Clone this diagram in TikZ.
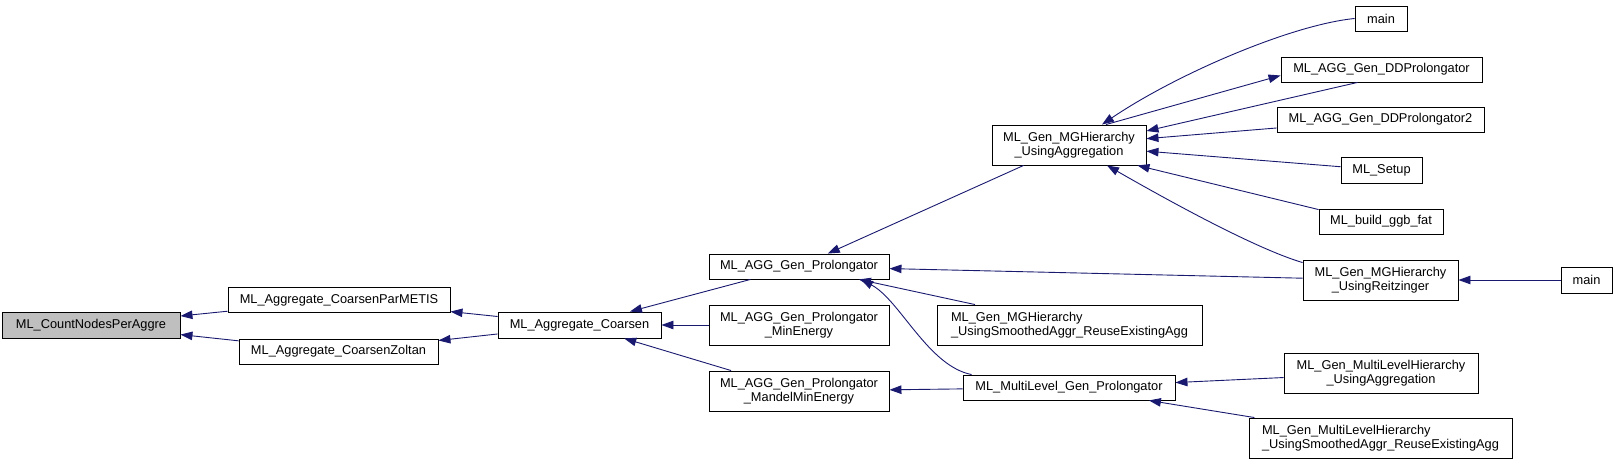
\documentclass[tikz,border=0pt]{standalone}
\usepackage{fontspec}
\setmainfont{Liberation Sans}
\usetikzlibrary{arrows.meta,calc}
\definecolor{edgeblue}{HTML}{191970}
\definecolor{rootgray}{HTML}{BFBFBF}

\begin{document}
\begin{tikzpicture}[
  x=1pt,y=-1pt,
  font=\fontsize{12.8}{14.5}\selectfont,
  fn/.style={draw=black,line width=0.9pt,fill=white,inner sep=0pt,align=center,
    minimum width=#1,minimum height=25pt},
  fn2/.style={fn=#1,minimum height=40pt},
  call/.style={draw=edgeblue,line width=0.9pt,{Triangle[length=12pt,width=8.5pt]}-}
]
\useasboundingbox (0,0) rectangle (1617,465);

% ---------- left: the function and its direct callers
\node[fn=178pt,fill=rootgray,minimum height=26pt] (count) at (91,325) {ML\_CountNodesPerAggre};
\node[fn=222pt] (parmetis) at (339,300) {ML\_Aggregate\_CoarsenParMETIS};
\node[fn=199pt] (zoltan) at (338.5,351.5) {ML\_Aggregate\_CoarsenZoltan};
\node[fn=163pt,minimum height=26pt] (coarsen) at (579.5,325) {ML\_Aggregate\_Coarsen};

% ---------- middle: prolongators
\node[fn=180pt] (prolong) at (799,266.5) {ML\_AGG\_Gen\_Prolongator};
\node[fn2=180pt] (minen) at (799,325) {ML\_AGG\_Gen\_Prolongator\\\_MinEnergy};
\node[fn2=180pt] (mandel) at (799,391) {ML\_AGG\_Gen\_Prolongator\\\_MandelMinEnergy};
\node[fn2=154pt] (mgh) at (1069,145) {ML\_Gen\_MGHierarchy\\\_UsingAggregation};
\node[fn2=265pt,align=left] (mghsmooth) at (1069.5,325) {ML\_Gen\_MGHierarchy\\\_UsingSmoothedAggr\_ReuseExistingAgg};
\node[fn=212pt] (mlprolong) at (1069,387.5) {ML\_MultiLevel\_Gen\_Prolongator};

% ---------- right: top level callers
\node[fn=52pt] (mainA) at (1381,18.5) {main};
\node[fn=201pt] (dd) at (1381.5,69.5) {ML\_AGG\_Gen\_DDProlongator};
\node[fn=207pt] (ddtwo) at (1380.5,119.5) {ML\_AGG\_Gen\_DDProlongator2};
\node[fn=81pt,minimum height=26pt] (setup) at (1381.5,170) {ML\_Setup};
\node[fn=124pt] (ggb) at (1381,221.5) {ML\_build\_ggb\_fat};
\node[fn2=155pt] (reitz) at (1380.5,280) {ML\_Gen\_MGHierarchy\\\_UsingReitzinger};
\node[fn=51pt,minimum height=26pt] (mainB) at (1586.5,280) {main};
\node[fn2=194pt] (mlhagg) at (1381,373) {ML\_Gen\_MultiLevelHierarchy\\\_UsingAggregation};
\node[fn2=263pt,align=left] (mlhsmooth) at (1380.5,438) {ML\_Gen\_MultiLevelHierarchy\\\_UsingSmoothedAggr\_ReuseExistingAgg};

% ---------- call edges (arrow at the callee)
\draw[call] (count) -- (parmetis);
\draw[call] (count) -- (zoltan);
\draw[call] (parmetis) -- (coarsen);
\draw[call] (zoltan) -- (coarsen);
\draw[call] (coarsen) -- (prolong);
\draw[call] (coarsen) -- (minen);
\draw[call] (coarsen) -- (mandel);
\draw[call] (prolong) -- (mgh);
\draw[call] (prolong) -- (reitz);
\draw[call] (prolong) -- (mghsmooth);
\draw[call] ($(prolong.south)+(62,0)$) .. controls (900,300) and (928,366) .. ($(mlprolong.north west)+(9,0)$);
\draw[call] (mandel) -- (mlprolong);
\draw[call] ($(mgh.north)+(33,0)$) .. controls (1175,75) and (1290,25) .. (mainA.west);
\draw[call] ($(dd.west)+(0,6)$) -- ($(mgh.north)+(37,0)$);
\draw[call] ($(mgh.east)+(0,-14)$) -- ($(dd.south)+(-24,0)$);
\draw[call] (mgh) -- (ddtwo);
\draw[call] (mgh) -- (setup);
\draw[call] ($(mgh.south east)+(-9,0)$) -- ($(ggb.north west)+(0,1)$);
\draw[call] ($(mgh.south)+(38,0)$) .. controls (1150,190) and (1250,247) .. ($(reitz.north west)+(0,3)$);
\draw[call] (reitz) -- (mainB);
\draw[call] (mlprolong) -- (mlhagg);
\draw[call] (mlprolong) -- (mlhsmooth);
\end{tikzpicture}
\end{document}
